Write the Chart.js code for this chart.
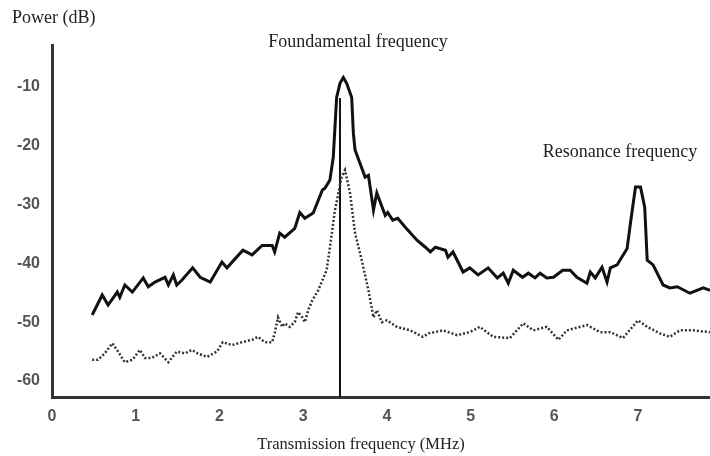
<!DOCTYPE html>
<html lang="en">
<head>
    <meta charset="UTF-8">
    <title>Power spectrum</title>
    <script src="https://cdn.jsdelivr.net/npm/chart.js"></script>
    <style>
        body { margin: 0; background: #fff; }
        #wrap { width: 710px; height: 456px; }
    </style>
</head>
<body>
    <div id="wrap"><canvas id="myChart"></canvas></div>

    <script>
        // solid curve: frequency (MHz) / power (dB)
        const solidFreq = [0.48, 0.6, 0.67, 0.78, 0.81, 0.87, 0.96, 1.09, 1.15, 1.23, 1.35, 1.39, 1.45, 1.49, 1.55, 1.68, 1.77, 1.89, 2.03, 2.09, 2.28, 2.39, 2.51, 2.63, 2.66, 2.72, 2.78, 2.9, 2.96, 3.02, 3.12, 3.23, 3.26, 3.32, 3.36, 3.4, 3.44, 3.48, 3.52, 3.58, 3.6, 3.62, 3.74, 3.78, 3.84, 3.88, 3.98, 4.01, 4.07, 4.13, 4.22, 4.36, 4.46, 4.52, 4.58, 4.7, 4.73, 4.79, 4.91, 4.99, 5.09, 5.21, 5.32, 5.39, 5.45, 5.51, 5.62, 5.69, 5.77, 5.83, 5.91, 5.99, 6.1, 6.19, 6.27, 6.39, 6.43, 6.49, 6.57, 6.63, 6.67, 6.75, 6.87, 6.91, 6.97, 7.03, 7.08, 7.11, 7.18, 7.3, 7.38, 7.47, 7.62, 7.78, 7.86];
        const solidPow = [-48.8, -45.4, -47.1, -44.9, -45.8, -43.7, -44.9, -42.5, -44, -43.2, -42.4, -43.7, -42, -43.7, -42.9, -40.8, -42.4, -43.2, -39.8, -40.8, -37.8, -38.6, -37, -37, -38.1, -34.9, -35.6, -34.1, -31.4, -32.4, -31.5, -27.6, -27.3, -25.9, -22, -11.9, -9.5, -8.5, -9.5, -11.9, -18, -20.8, -25.4, -25.1, -31, -28.1, -31.9, -31.4, -32.7, -32.4, -33.9, -36.1, -37.3, -38.1, -37.3, -37.8, -39, -38.1, -41.5, -40.8, -42, -40.8, -42.5, -41.7, -43.4, -41.2, -42.4, -41.7, -42.5, -41.7, -42.5, -42.4, -41.2, -41.2, -42.4, -43.4, -41.5, -42.5, -40.7, -43.2, -40.8, -40.3, -37.5, -33.2, -27.1, -27.1, -30.5, -39.5, -40.3, -43.7, -44.2, -44, -45.1, -44.2, -44.6];

        // dotted curve
        const dotFreq = [0.48, 0.55, 0.63, 0.72, 0.79, 0.87, 0.96, 1.05, 1.11, 1.19, 1.29, 1.39, 1.49, 1.59, 1.67, 1.74, 1.85, 1.97, 2.04, 2.15, 2.27, 2.39, 2.46, 2.54, 2.63, 2.66, 2.7, 2.75, 2.78, 2.84, 2.9, 2.94, 2.99, 3.02, 3.06, 3.11, 3.18, 3.28, 3.32, 3.38, 3.46, 3.5, 3.56, 3.62, 3.7, 3.78, 3.84, 3.88, 3.94, 4.0, 4.12, 4.28, 4.43, 4.5, 4.67, 4.84, 4.99, 5.11, 5.27, 5.47, 5.63, 5.75, 5.91, 6.05, 6.15, 6.39, 6.55, 6.67, 6.82, 7.0, 7.11, 7.26, 7.38, 7.5, 7.66, 7.86];
        const dotPow = [-56.4, -56.4, -55.3, -53.6, -55, -56.8, -56.4, -54.7, -56.1, -56.1, -55.3, -56.8, -55, -55.3, -54.7, -55.3, -55.9, -55, -53.4, -53.9, -53.4, -53, -52.5, -53.4, -53.4, -51.9, -49.2, -50.8, -50.2, -50.8, -50, -48.3, -49.2, -50, -48, -46.3, -44.6, -41.2, -37.3, -31, -25.4, -24.2, -28.1, -34.9, -39.5, -44.6, -49.2, -48, -50, -49.7, -50.8, -51.4, -52.5, -51.9, -51.4, -52.2, -51.7, -50.8, -52.5, -52.7, -50.2, -51.4, -50.8, -53, -51.4, -50.5, -51.7, -51.7, -52.7, -49.7, -50.8, -51.9, -52.5, -51.4, -51.4, -51.7];

        // vertical marker line at the transmission frequency
        const markerFreq = [3.44, 3.44];
        const markerPow = [-62.7, -12];

        const xTicks = [0, 1, 2, 3, 4, 5, 6, 7];
        const yTicks = [-10, -20, -30, -40, -50, -60];

        const labelsText = [
            { text: 'Power (dB)', x: 12, y: 18, align: 'left', size: 18 },
            { text: 'Foundamental frequency', x: 358, y: 42, align: 'center', size: 18 },
            { text: 'Resonance frequency', x: 620, y: 152, align: 'center', size: 18 },
            { text: 'Transmission frequency (MHz)', x: 361, y: 445, align: 'center', size: 16.5 }
        ];

        function toPoints(xs, ys) {
            return xs.map((x, i) => ({ x: x, y: ys[i] }));
        }

        const textPlugin = {
            id: 'textPlugin',
            afterDraw(chart) {
                const ctx = chart.ctx;
                ctx.save();
                ctx.fillStyle = '#222';
                ctx.textBaseline = 'middle';
                labelsText.forEach(l => {
                    ctx.font = l.size + 'px "Liberation Serif", serif';
                    ctx.textAlign = l.align;
                    ctx.fillText(l.text, l.x, l.y);
                });
                ctx.restore();
            }
        };

        const ctx = document.getElementById('myChart').getContext('2d');
        new Chart(ctx, {
            type: 'scatter',
            data: {
                datasets: [
                    {
                        data: toPoints(solidFreq, solidPow),
                        showLine: true,
                        borderColor: '#111',
                        borderWidth: 3,
                        pointRadius: 0,
                        tension: 0
                    },
                    {
                        data: toPoints(dotFreq, dotPow),
                        showLine: true,
                        borderColor: '#333',
                        borderWidth: 2.5,
                        borderDash: [2, 2],
                        pointRadius: 0,
                        tension: 0
                    },
                    {
                        data: toPoints(markerFreq, markerPow),
                        showLine: true,
                        borderColor: '#111',
                        borderWidth: 2,
                        pointRadius: 0
                    }
                ]
            },
            options: {
                responsive: true,
                maintainAspectRatio: false,
                animation: false,
                layout: { padding: { top: 45, right: 0, left: 0, bottom: 0 } },
                plugins: {
                    legend: { display: false },
                    tooltip: { enabled: false }
                },
                scales: {
                    x: {
                        type: 'linear',
                        min: 0,
                        max: 7.86,
                        afterBuildTicks: s => { s.ticks = xTicks.map(v => ({ value: v })); },
                        afterFit: s => { s.height = 59; },
                        grid: { display: false },
                        border: { display: true, color: '#333', width: 3 },
                        ticks: {
                            color: '#555',
                            padding: 2,
                            font: { family: '"Liberation Sans", Arial', size: 16, weight: 'bold' }
                        }
                    },
                    y: {
                        min: -62.7,
                        max: -3,
                        afterBuildTicks: s => { s.ticks = yTicks.map(v => ({ value: v })); },
                        afterFit: s => { s.width = 52; },
                        grid: { display: false },
                        border: { display: true, color: '#333', width: 3 },
                        ticks: {
                            color: '#555',
                            padding: 4,
                            font: { family: '"Liberation Sans", Arial', size: 16, weight: 'bold' }
                        }
                    }
                }
            },
            plugins: [textPlugin]
        });
    </script>
</body>
</html>
